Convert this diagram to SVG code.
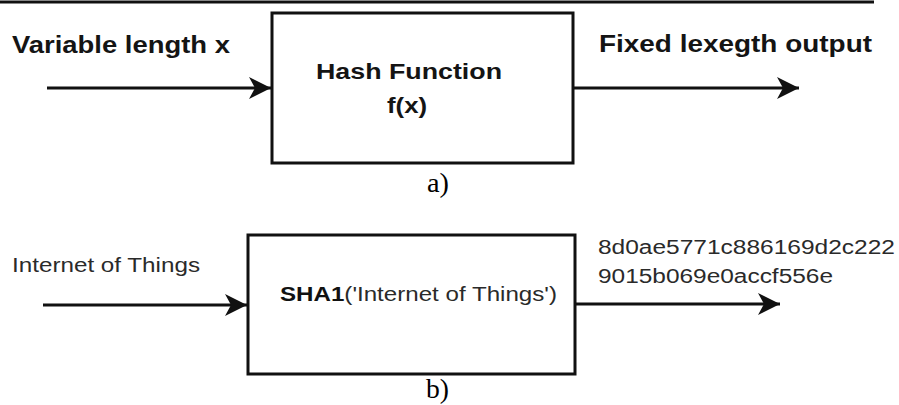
<svg xmlns="http://www.w3.org/2000/svg" width="899" height="405" viewBox="0 0 899 405">
  <style>
    .box { fill: #ffffff; stroke: #111111; stroke-width: 3; }
    .edge { fill: none; stroke: #111111; stroke-width: 3; }
    .head { font-family: "Liberation Sans", Arial, sans-serif; font-weight: bold; font-size: 23px; fill: #141414; }
    .plain { font-family: "Liberation Sans", Arial, sans-serif; font-size: 20px; fill: #2a2a2a; }
    .cap { font-family: "Liberation Serif", "Times New Roman", serif; font-size: 28px; fill: #000000; }
  </style>
  <defs>
    <marker id="arrow" markerUnits="userSpaceOnUse" markerWidth="24" markerHeight="24" viewBox="-24 -12 24 24" refX="0" refY="0" orient="auto">
      <path d="M0,0 L-22,-11 L-16,0 L-22,11 Z" fill="#111111"/>
    </marker>
  </defs>

  <rect width="899" height="405" fill="#ffffff"/>

  <!-- rule across the top -->
  <line x1="0" y1="2" x2="874" y2="2" stroke="#111111" stroke-width="3"/>

  <!-- (a) generic hash function -->
  <g id="label-input-a">
    <text class="head" x="12" y="53" textLength="218" lengthAdjust="spacingAndGlyphs">Variable length x</text>
  </g>
  <g id="node-hash-function">
    <rect class="box" x="272" y="13" width="301" height="150"/>
    <text class="head" style="font-size:22px" x="316" y="79" textLength="186" lengthAdjust="spacingAndGlyphs">Hash Function</text>
    <text class="head" style="font-size:22px" x="387" y="113" textLength="40" lengthAdjust="spacingAndGlyphs">f(x)</text>
  </g>
  <g id="label-output-a">
    <text class="head" x="599" y="52" textLength="273" lengthAdjust="spacingAndGlyphs">Fixed lexegth output</text>
  </g>
  <text class="cap" x="427" y="192" textLength="22" lengthAdjust="spacingAndGlyphs">a)</text>

  <!-- (b) SHA1 example -->
  <g id="label-input-b">
    <text class="plain" x="12" y="272" textLength="188" lengthAdjust="spacingAndGlyphs">Internet of Things</text>
  </g>
  <g id="node-sha1">
    <rect class="box" x="248" y="235" width="327" height="139"/>
    <text class="plain" x="280" y="301" textLength="277" lengthAdjust="spacingAndGlyphs"><tspan font-weight="bold" fill="#111111">SHA1</tspan>('Internet of Things')</text>
  </g>
  <g id="label-output-b">
    <text class="plain" x="598" y="254" textLength="297" lengthAdjust="spacingAndGlyphs">8d0ae5771c886169d2c222</text>
    <text class="plain" x="598" y="283" textLength="235" lengthAdjust="spacingAndGlyphs">9015b069e0accf556e</text>
  </g>
  <text class="cap" style="font-size:27px" x="426" y="398" textLength="23" lengthAdjust="spacingAndGlyphs">b)</text>

  <!-- connectors -->
  <g id="connectors">
    <line class="edge" x1="47" y1="88" x2="271" y2="88" marker-end="url(#arrow)"/>
    <line class="edge" x1="573" y1="88" x2="799" y2="88" marker-end="url(#arrow)"/>
    <line class="edge" x1="43" y1="305" x2="247" y2="305" marker-end="url(#arrow)"/>
    <line class="edge" x1="575" y1="304" x2="780" y2="304" marker-end="url(#arrow)"/>
  </g>
</svg>
